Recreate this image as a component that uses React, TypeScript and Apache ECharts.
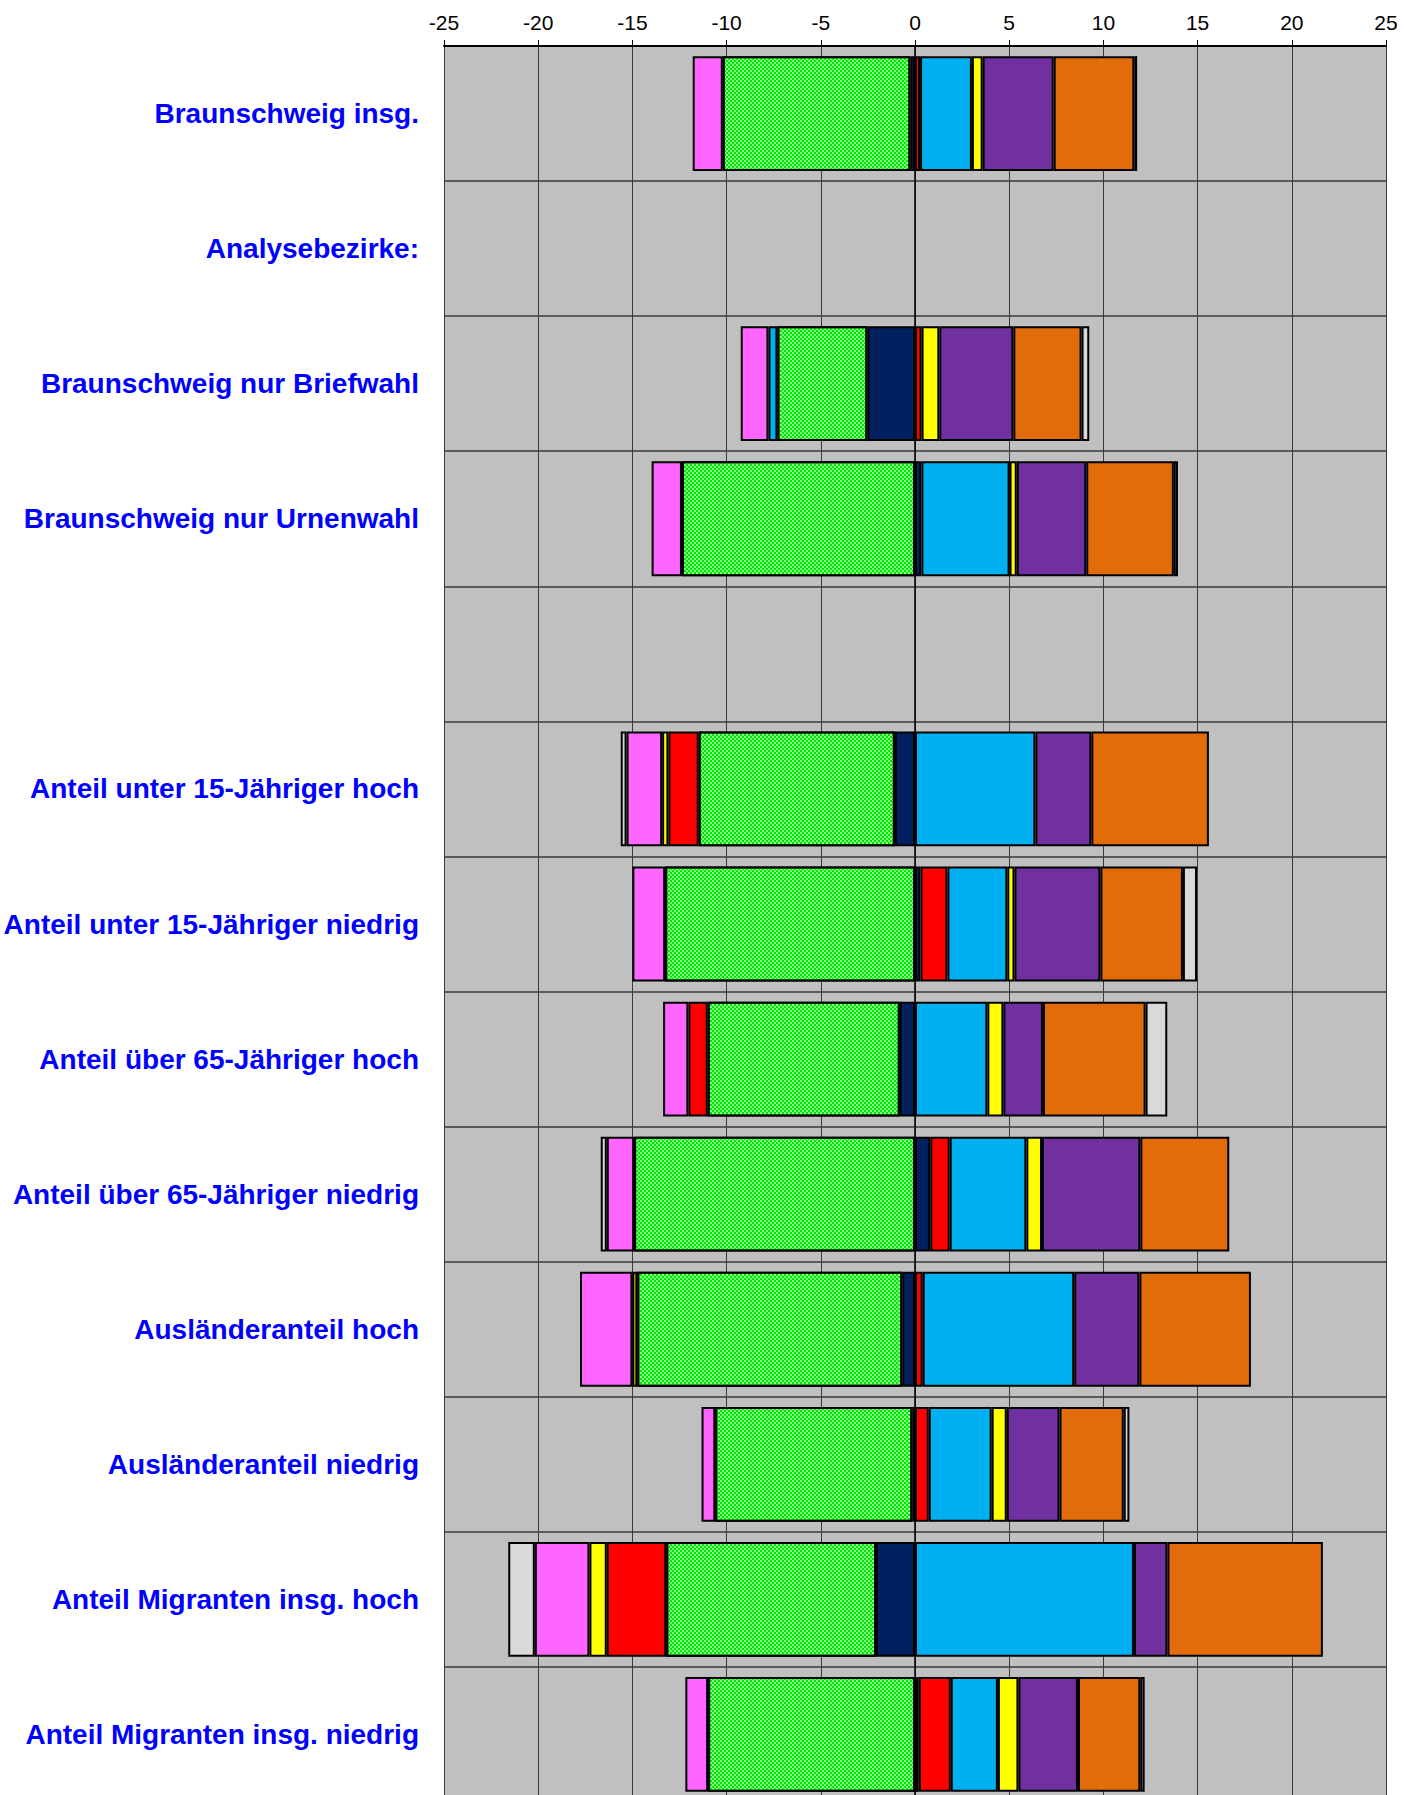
import React, { useEffect, useRef } from "react";
import * as echarts from "echarts";

const categories = [
  "Braunschweig insg.",
  "Analysebezirke:",
  "Braunschweig nur Briefwahl",
  "Braunschweig nur Urnenwahl",
  "",
  "Anteil unter 15-Jähriger hoch",
  "Anteil unter 15-Jähriger niedrig",
  "Anteil über 65-Jähriger hoch",
  "Anteil über 65-Jähriger niedrig",
  "Ausländeranteil hoch",
  "Ausländeranteil niedrig",
  "Anteil Migranten insg. hoch",
  "Anteil Migranten insg. niedrig",
];

const xTicks = { min: -25, max: 25, interval: 5 };

const navyValues = [-0.25, null, -2.53, 0.34, null, -1.07, 0.29, -0.81, 0.81, -0.68, -0.15, -2.07, 0.2];
const greenValues = [-9.95, null, -4.77, -12.37, null, -10.41, -13.26, -10.19, -14.91, -14.06, -10.45, -11.13, -10.98];
const redValues = [0.27, null, 0.35, null, null, -1.61, 1.43, -1.03, 1.03, 0.41, 0.73, -3.16, 1.7];
const cyanValues = [2.75, null, -0.48, 4.68, null, 6.39, 3.18, 3.84, 4.07, 8.04, 3.34, 11.62, 2.5];
const yellowValues = [0.57, null, 0.94, 0.38, null, -0.33, 0.38, 0.85, 0.83, -0.26, 0.8, -0.92, 1.09];
const purpleValues = [3.77, null, 3.93, 3.69, null, 2.97, 4.56, 2.1, 5.22, 3.46, 2.8, 1.78, 3.16];
const orangeValues = [4.28, null, 3.62, 4.65, null, 6.24, 4.38, 5.45, 4.72, 5.92, 3.41, 8.25, 3.31];
const pinkValues = [-1.6, null, -1.47, -1.61, null, -1.89, -1.74, -1.34, -1.45, -2.78, -0.73, -2.9, -1.21];
const grayValues = [0.15, null, 0.41, 0.22, null, -0.31, 0.75, 1.15, -0.32, null, 0.3, -1.41, 0.23];

const seriesDefs = [
  { name: "Reihe 1", color: "#00205f", values: navyValues },
  { name: "Reihe 2", color: "#86ff86", values: greenValues, pattern: true },
  { name: "Reihe 3", color: "#ff0000", values: redValues },
  { name: "Reihe 4", color: "#00b0f0", values: cyanValues },
  { name: "Reihe 5", color: "#ffff00", values: yellowValues },
  { name: "Reihe 6", color: "#7030a0", values: purpleValues },
  { name: "Reihe 7", color: "#e36c0a", values: orangeValues },
  { name: "Reihe 8", color: "#ff66ff", values: pinkValues },
  { name: "Reihe 9", color: "#d9d9d9", values: grayValues },
];

export default function App() {
  const ref = useRef<HTMLDivElement>(null);
  useEffect(() => {
    if (!ref.current) return;
    const chart = echarts.init(ref.current, null, { renderer: "svg" });
    const series: any[] = seriesDefs.map((s, i) => {
      const itemStyle: any = {
        color: s.color,
        borderColor: "#000000",
        borderWidth: 2,
      };
      if (s.pattern) {
        itemStyle.decal = {
          symbol: "rect",
          symbolSize: 1,
          color: "#00e600",
          dashArrayX: [[2, 2], [0, 2, 2, 0]],
          dashArrayY: [2, 0],
          rotation: 0,
        };
      }
      const ser: any = {
        name: s.name,
        type: "bar",
        stack: "total",
        barCategoryGap: "15%",
        data: s.values,
        itemStyle,
        emphasis: { disabled: true },
      };
      if (i === 0) {
        ser.markLine = {
          silent: true,
          symbol: ["none", "none"],
          label: { show: false },
          lineStyle: { color: "#000000", width: 1.5, type: "solid" },
          data: [{ xAxis: 0 }],
        };
      }
      return ser;
    });
    const option: any = {
      animation: false,
      backgroundColor: "#ffffff",
      grid: {
        left: 444,
        top: 46,
        width: 942,
        height: 1756,
        show: true,
        backgroundColor: "#c0c0c0",
        borderWidth: 0,
        containLabel: false,
        outerBoundsMode: "none",
      },
      xAxis: {
        type: "value",
        position: "top",
        min: xTicks.min,
        max: xTicks.max,
        interval: xTicks.interval,
        axisLine: { show: true, lineStyle: { color: "#000000", width: 2 } },
        axisTick: { show: true, length: 6, lineStyle: { color: "#000000", width: 1 } },
        axisLabel: {
          color: "#000000",
          fontSize: 21,
          fontFamily: "Liberation Sans, Arial, sans-serif",
          margin: 13,
        },
        splitLine: { show: true, lineStyle: { color: "#3a3a3a", width: 1 } },
      },
      yAxis: {
        type: "category",
        inverse: true,
        data: categories,
        axisLine: { show: false, onZero: false },
        axisTick: { show: false },
        axisLabel: {
          interval: 0,
          color: "#0000ff",
          fontSize: 28,
          fontWeight: "bold",
          fontFamily: "Liberation Sans, Arial, sans-serif",
          margin: 25,
        },
        splitLine: { show: true, interval: 0, lineStyle: { color: "#3a3a3a", width: 1.5 } },
      },
      series,
    };
    chart.setOption(option);
    return () => chart.dispose();
  }, []);
  return (
    <div
      ref={ref}
      style={{ position: "absolute", left: 0, top: 0, width: 1404, height: 1795, background: "#ffffff" }}
    />
  );
}
